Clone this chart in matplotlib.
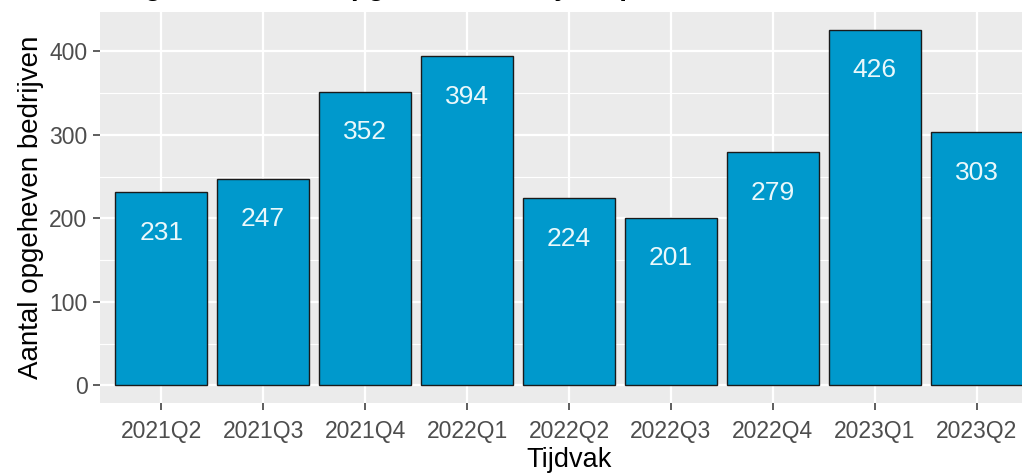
import matplotlib
matplotlib.use("Agg")
import matplotlib.pyplot as plt
from matplotlib.ticker import MultipleLocator

plt.rcParams['font.family'] = ['Liberation Sans', 'DejaVu Sans']

# data
kwartalen = ['2021Q2', '2021Q3', '2021Q4', '2022Q1', '2022Q2',
             '2022Q3', '2022Q4', '2023Q1', '2023Q2']
opgeheven = [231, 247, 352, 394, 224, 201, 279, 426, 303]
titel = 'Figuur 1: aantal opgeheven bedrijven per kwartaal'

W, H = 1022, 475
fig = plt.figure(figsize=(W / 100, H / 100), dpi=100)
fig.patch.set_facecolor('white')

# panel runs past the right edge, like the cropped original
ax = fig.add_axes([100 / W, (H - 403) / H, 938 / W, 391 / H])
ax.set_facecolor('#EBEBEB')

x = list(range(len(kwartalen)))
ax.bar(x, opgeheven, width=0.9, color='#0099CC', edgecolor='#1a1a1a',
       linewidth=1.0, zorder=3)

for xi, v in zip(x, opgeheven):
    ax.annotate(str(v), (xi, v), xytext=(0, -29), textcoords='offset points',
                ha='center', va='center', fontsize=19, color='#EAF8FB', zorder=4)

ax.set_xlim(-0.6, len(kwartalen) - 0.4)
ymax = max(opgeheven)
ax.set_ylim(-0.05 * ymax, 1.05 * ymax)

ax.set_xticks(x)
ax.set_xticklabels(kwartalen)
ax.yaxis.set_major_locator(MultipleLocator(100))
ax.yaxis.set_minor_locator(MultipleLocator(50))
ax.grid(which='major', color='white', linewidth=1.6, zorder=0)
ax.grid(which='minor', axis='y', color='white', linewidth=0.8, zorder=0)
ax.set_axisbelow(True)

for s in ax.spines.values():
    s.set_visible(False)
ax.tick_params(axis='both', which='major', length=5, width=1.1,
               color='#333333', labelsize=16.5, labelcolor='#4D4D4D', pad=4)
ax.tick_params(axis='x', pad=7)
ax.tick_params(axis='y', which='minor', length=0)

ax.set_xlabel('Tijdvak', fontsize=19.5, color='black', labelpad=3)
ax.set_ylabel('Aantal opgeheven bedrijven', fontsize=20, color='black', labelpad=4)

# title sits mostly above the cropped top edge
fig.text(120 / W, 1 + 5 / H, titel, fontsize=20, fontweight='bold',
         ha='left', va='baseline', color='black')

fig.savefig('out.png', dpi=100)
